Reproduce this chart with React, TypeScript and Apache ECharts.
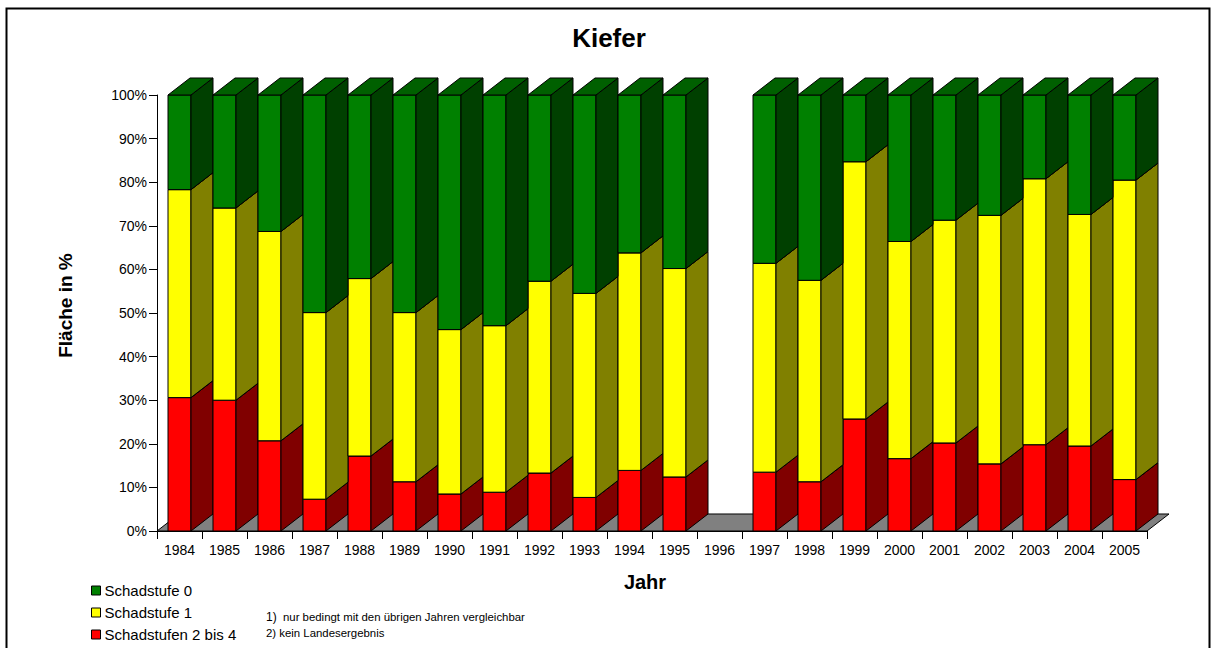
import React, { useEffect, useRef } from "react";
import * as echarts from "echarts";

const years = [
  "1984", "1985", "1986", "1987", "1988", "1989", "1990", "1991", "1992", "1993", "1994",
  "1995", "1996", "1997", "1998", "1999", "2000", "2001", "2002", "2003", "2004", "2005",
];
// Flächenanteile in % (1996: kein Landesergebnis)
const schadstufen2bis4 = [30.6, 30.0, 20.7, 7.3, 17.2, 11.3, 8.5, 8.9, 13.3, 7.7, 13.9, 12.4, null, 13.5, 11.3, 25.7, 16.6, 20.2, 15.4, 19.8, 19.5, 11.8];
const schadstufe1 = [47.7, 44.1, 48.0, 42.8, 40.7, 38.8, 37.7, 38.2, 44.0, 46.8, 49.9, 47.8, null, 47.9, 46.2, 59.0, 49.8, 51.1, 57.0, 61.0, 53.1, 68.7];
const schadstufe0 = [21.7, 25.9, 31.3, 49.9, 42.1, 49.9, 53.8, 52.9, 42.7, 45.5, 36.2, 39.8, null, 38.6, 42.5, 15.3, 33.6, 28.7, 27.6, 19.2, 27.4, 19.5];

const FONT = "'Liberation Sans', Arial, sans-serif";

// face colours: front, side, top
const palette = {
  red: ["#FF0000", "#800000", "#A00000"],
  yellow: ["#FFFF00", "#808000", "#A0A000"],
  green: ["#008000", "#004000", "#006000"],
};

// depth of the pseudo-3D bars relative to the category band
const FRONT_RATIO = 0.511;
const DEPTH_RATIO = 0.489;
const DEPTH_SLOPE = 17 / 22;

function stacked(values: (number | null)[], below: (number | null)[][]) {
  return values.map((v, i) => {
    if (v == null) return [i, NaN, NaN];
    let base = 0;
    below.forEach((arr) => (base += (arr[i] as number) || 0));
    return [i, base, base + v];
  });
}

function barRenderer(colors: string[]) {
  return (params: any, api: any) => {
    const idx = api.value(0);
    const b = api.value(1);
    const t = api.value(2);
    if (isNaN(b) || isNaN(t)) return null;
    const band = api.size([1, 0])[0];
    const w = band * FRONT_RATIO;
    const dx = band * DEPTH_RATIO;
    const dy = dx * DEPTH_SLOPE;
    const pb = api.coord([idx, b]);
    const pt = api.coord([idx, t]);
    const x0 = pb[0] - w / 2;
    const x1 = pb[0] + w / 2;
    const yb = pb[1];
    const yt = pt[1];
    const stroke = { stroke: "#000", lineWidth: 1, lineJoin: "round" };
    return {
      type: "group",
      children: [
        {
          type: "rect",
          shape: { x: x0, y: yt, width: w, height: yb - yt },
          style: { fill: colors[0], ...stroke },
        },
        {
          type: "polygon",
          shape: { points: [[x1, yb], [x1 + dx, yb - dy], [x1 + dx, yt - dy], [x1, yt]] },
          style: { fill: colors[1], ...stroke },
        },
        {
          type: "polygon",
          shape: { points: [[x0, yt], [x0 + dx, yt - dy], [x1 + dx, yt - dy], [x1, yt]] },
          style: { fill: colors[2], ...stroke },
        },
      ],
    };
  };
}

function floorRenderer(params: any, api: any) {
  const band = api.size([1, 0])[0];
  const dx = band * DEPTH_RATIO;
  const dy = dx * DEPTH_SLOPE;
  const pl = api.coord([0, 0]);
  const pr = api.coord([years.length - 1, 0]);
  const xl = pl[0] - band / 2;
  const xr = pr[0] + band / 2;
  const y = pl[1];
  return {
    type: "polygon",
    shape: { points: [[xl, y], [xr, y], [xr + dx, y - dy], [xl + dx, y - dy]] },
    style: { fill: "#808080", stroke: "#000", lineWidth: 1 },
  };
}

export default function App() {
  const ref = useRef<HTMLDivElement>(null);

  useEffect(() => {
    if (!ref.current) return;
    const chart = echarts.init(ref.current, null, { renderer: "svg" });
    const redData = stacked(schadstufen2bis4, []);
    const yellowData = stacked(schadstufe1, [schadstufen2bis4]);
    const greenData = stacked(schadstufe0, [schadstufen2bis4, schadstufe1]);

    chart.setOption({
      animation: false,
      backgroundColor: "#fff",
      textStyle: { fontFamily: FONT },
      grid: { left: 157, right: 64, top: 95, bottom: 117 },
      xAxis: {
        type: "category",
        data: years,
        boundaryGap: true,
        axisLine: { lineStyle: { color: "#000", width: 1 } },
        axisTick: { show: true, length: 8, lineStyle: { color: "#000" } },
        axisLabel: { color: "#000", fontSize: 14, fontFamily: FONT, margin: 12, interval: 0 },
        splitLine: { show: false },
        z: 5,
      },
      yAxis: {
        type: "value",
        min: 0,
        max: 100,
        interval: 10,
        axisLine: { show: true, lineStyle: { color: "#000", width: 1 } },
        axisTick: { show: true, length: 8, lineStyle: { color: "#000" } },
        axisLabel: { color: "#000", fontSize: 14, fontFamily: FONT, margin: 10, formatter: "{value}%" },
        splitLine: { show: false },
      },
      legend: {
        orient: "vertical",
        left: 91,
        top: 583,
        height: 70,
        padding: 0,
        icon: "rect",
        itemWidth: 9,
        itemHeight: 9,
        itemGap: 7,
        selectedMode: false,
        data: ["Schadstufe 0", "Schadstufe 1", "Schadstufen 2 bis 4"],
        itemStyle: { borderColor: "#000", borderWidth: 1 },
        textStyle: { fontSize: 15, fontFamily: FONT, color: "#000", lineHeight: 15, padding: [0, 0, 0, -1] },
      },
      graphic: [
        {
          type: "rect",
          shape: { x: 6.5, y: 8.5, width: 1203, height: 660 },
          style: { fill: "none", stroke: "#000", lineWidth: 2 },
          silent: true,
        },
        {
          type: "text",
          x: 609,
          y: 38,
          style: {
            text: "Kiefer",
            font: `bold 26px ${FONT}`,
            fill: "#000",
            textAlign: "center",
            textVerticalAlign: "middle",
          },
        },
        {
          type: "text",
          x: 65,
          y: 305.5,
          rotation: Math.PI / 2,
          style: {
            text: "Fläche in %",
            font: `bold 19px ${FONT}`,
            fill: "#000",
            textAlign: "center",
            textVerticalAlign: "middle",
          },
        },
        {
          type: "text",
          x: 645,
          y: 582,
          style: {
            text: "Jahr",
            font: `bold 20px ${FONT}`,
            fill: "#000",
            textAlign: "center",
            textVerticalAlign: "middle",
          },
        },
        {
          type: "text",
          x: 266,
          y: 617,
          style: {
            text: "{a|1)}  {b|nur bedingt mit den übrigen Jahren vergleichbar}",
            fill: "#000",
            textVerticalAlign: "middle",
            rich: {
              a: { fontSize: 12, fontFamily: FONT, fill: "#000" },
              b: { fontSize: 11.4, fontFamily: FONT, fill: "#000" },
            },
            font: `11.4px ${FONT}`,
          },
        },
        {
          type: "text",
          x: 266,
          y: 632.5,
          style: {
            text: "2) kein Landesergebnis",
            font: `11.4px ${FONT}`,
            fill: "#000",
            textVerticalAlign: "middle",
          },
        },
      ],
      series: [
        {
          type: "custom",
          name: "Boden",
          data: [[0, 0]],
          encode: { x: 0, y: 1 },
          renderItem: floorRenderer,
          silent: true,
          z: 1,
        },
        {
          type: "custom",
          name: "Schadstufen 2 bis 4",
          data: redData,
          encode: { x: 0, y: [1, 2] },
          itemStyle: { color: palette.red[0] },
          renderItem: barRenderer(palette.red),
          z: 2,
        },
        {
          type: "custom",
          name: "Schadstufe 1",
          data: yellowData,
          encode: { x: 0, y: [1, 2] },
          itemStyle: { color: palette.yellow[0] },
          renderItem: barRenderer(palette.yellow),
          z: 3,
        },
        {
          type: "custom",
          name: "Schadstufe 0",
          data: greenData,
          encode: { x: 0, y: [1, 2] },
          itemStyle: { color: palette.green[0] },
          renderItem: barRenderer(palette.green),
          z: 4,
        },
      ],
    });
    return () => chart.dispose();
  }, []);

  return (
    <div
      ref={ref}
      style={{ position: "fixed", left: 0, top: 0, width: 1211, height: 648, background: "#fff" }}
    />
  );
}
